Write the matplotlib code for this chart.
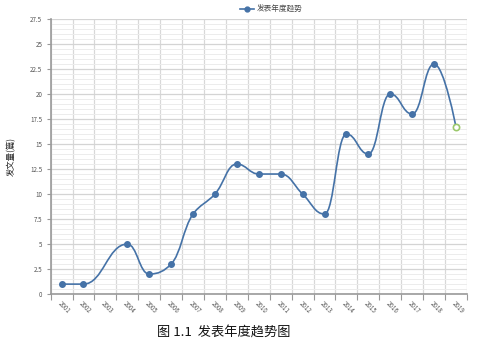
import numpy as np
import matplotlib
matplotlib.use("Agg")
import matplotlib.pyplot as plt
from matplotlib.path import Path
from matplotlib.patches import PathPatch
from matplotlib.ticker import MultipleLocator

plt.rcParams["font.family"] = ["Noto Sans CJK SC", "DejaVu Sans"]

# category axis (2003 has no value)
years = [str(y) for y in range(2001, 2020)]
point_years = ["2001", "2002", "2004", "2005", "2006", "2007", "2008", "2009",
               "2010", "2011", "2012", "2013", "2014", "2015", "2016", "2017",
               "2018", "2019"]
counts = [1, 1, 5, 2, 3, 8, 10, 13, 12, 12, 10, 8, 16, 14, 20, 18, 23, 16.7]
y_ticks = [0, 2.5, 5, 7.5, 10, 12.5, 15, 17.5, 20, 22.5, 25, 27.5]
y_tick_labels = ["0", "2.5", "5", "7.5", "10", "12.5", "15", "17.5",
                 "20", "22.5", "25", "27.5"]
series_name = "发表年度趋势"
y_label = "发文量(篇)"
caption = "图 1.1  发表年度趋势图"

BLUE = "#4572a7"


def spline_path(ax, xs, ys, smoothing=1.5, max_dx=0.45):
    """Highcharts-like spline, computed in pixel space"""
    pts = ax.transData.transform(np.column_stack([xs, ys]))
    n = len(pts)
    left = [None] * n
    right = [None] * n
    denom = smoothing + 1
    for i in range(1, n - 1):
        px, py = pts[i]
        lx, ly = pts[i - 1]
        nx, ny = pts[i + 1]
        lcx = (smoothing * px + lx) / denom
        lcy = (smoothing * py + ly) / denom
        rcx = (smoothing * px + nx) / denom
        rcy = (smoothing * py + ny) / denom
        dl = np.hypot(lcx - px, lcy - py)
        dr = np.hypot(rcx - px, rcy - py)
        la = np.arctan2(lcy - py, lcx - px)
        ra = np.arctan2(rcy - py, rcx - px)
        ja = np.pi / 2 + (la + ra) / 2
        if abs(la - ja) > np.pi / 2:
            ja -= np.pi
        lcx = px + np.cos(ja) * dl
        lcy = py + np.sin(ja) * dl
        rcx = px + np.cos(np.pi + ja) * dr
        rcy = py + np.sin(np.pi + ja) * dr
        if lcy > ly and lcy > py:
            lcy = max(ly, py)
            rcy = 2 * py - lcy
        elif lcy < ly and lcy < py:
            lcy = min(ly, py)
            rcy = 2 * py - lcy
        if rcy > ny and rcy > py:
            rcy = max(ny, py)
            lcy = 2 * py - rcy
        elif rcy < ny and rcy < py:
            rcy = min(ny, py)
            lcy = 2 * py - rcy
        # keep control points from crossing the neighbours
        lim_l = max_dx * (px - lx)
        if px - lcx > lim_l:
            f = lim_l / (px - lcx)
            lcx, lcy = px - (px - lcx) * f, py + (lcy - py) * f
        lim_r = max_dx * (nx - px)
        if rcx - px > lim_r:
            f = lim_r / (rcx - px)
            rcx, rcy = px + (rcx - px) * f, py + (rcy - py) * f
        left[i] = (lcx, lcy)
        right[i] = (rcx, rcy)
    verts = [tuple(pts[0])]
    codes = [Path.MOVETO]
    for i in range(1, n):
        c1 = right[i - 1] if right[i - 1] is not None else tuple(pts[i - 1])
        c2 = left[i] if left[i] is not None else tuple(pts[i])
        verts += [c1, c2, tuple(pts[i])]
        codes += [Path.CURVE4] * 3
    inv = ax.transData.inverted()
    return Path(inv.transform(np.array(verts)), codes)


fig = plt.figure(figsize=(5.01, 3.44), dpi=100)
ax = fig.add_axes([0.101, 0.145, 0.831, 0.80])

xpos = np.array([years.index(y) for y in point_years], dtype=float)
ax.set_xlim(-0.5, len(years) - 0.5)
ax.set_ylim(0, 27.5)

# grid
ax.set_yticks(y_ticks)
ax.yaxis.set_minor_locator(MultipleLocator(0.5))
ax.set_xticks(np.arange(len(years)))
ax.set_xticks(np.arange(len(years) + 1) - 0.5, minor=True)
ax.grid(True, which="major", axis="y", color="#d4d4d4", lw=0.9)
ax.grid(True, which="minor", axis="y", color="#ececec", lw=0.7)
ax.grid(True, which="minor", axis="x", color="#d8d8d8", lw=0.9)
ax.set_axisbelow(True)

ax.set_xticklabels(years, rotation=-45, ha="left", va="top",
                   rotation_mode="anchor", fontsize=4.5, color="#555555")
ax.tick_params(axis="x", which="major", length=0, pad=4)
ax.tick_params(axis="x", which="minor", length=4, color="#999999", width=0.8)
ax.set_yticklabels(y_tick_labels, fontsize=4.5, color="#555555")
ax.tick_params(axis="y", which="major", length=3, color="#999999", width=0.8, pad=3)
ax.tick_params(axis="y", which="minor", length=0)

for s in ["top", "right"]:
    ax.spines[s].set_visible(False)
ax.spines["left"].set_color("#999999")
ax.spines["bottom"].set_color("#999999")
ax.spines["left"].set_linewidth(1.2)
ax.spines["bottom"].set_linewidth(1.2)

ax.set_ylabel(y_label, fontsize=6, labelpad=10, color="#222222")

fig.canvas.draw()
path = spline_path(ax, xpos, counts)
ax.add_patch(PathPatch(path, facecolor="none", edgecolor=BLUE, lw=1.2, zorder=3))
ax.plot(xpos[:-1], counts[:-1], "o", color=BLUE, ms=4, zorder=4)
ax.plot(xpos[-1:], counts[-1:], "o", mfc="white", mec="#9bc86b", mew=1.2,
        ms=4.5, zorder=4)

# legend
ax.plot([], [], "-o", color=BLUE, ms=3.5, lw=1.2, label=series_name)
leg = ax.legend(loc="lower center", bbox_to_anchor=(0.53, 1.0), frameon=False,
                fontsize=5.5, handlelength=1.8, handletextpad=0.4,
                borderaxespad=0.3)
for t in leg.get_texts():
    t.set_color("#444444")

fig.text(0.447, 0.032, caption, ha="center", va="center", fontsize=9.5,
         color="#111111")

plt.savefig("out.png", dpi=100)
